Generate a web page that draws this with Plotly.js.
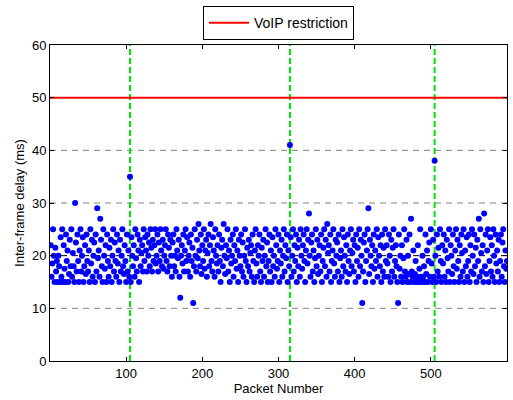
<!DOCTYPE html>
<html><head><meta charset="utf-8">
<script src="https://cdn.plot.ly/plotly-3.0.1.min.js"></script>
<style>html,body{margin:0;padding:0;background:#fff;}#chart{width:513px;height:400px;}</style>
</head><body><div id="chart"></div>
<script>
// Inter-frame delay (ms) per packet, packets 1..600
const delays = [
22,16,18.5,25,20,15,21.5,17,19,15,
20,18,15,23.5,16,25,15,22,17.5,15,
24,19,21,15,16.5,23,18,25,16,20.5,
18,15,30,22.5,17,24,19,15,21,25,
17,20,23.5,15,18,22,16.5,24,19,17,
21,15,25,18.5,23,16,20,22.5,15,24,
17,29,19.5,21,16,27,23,18,15,25,
20,17.5,22,15,24,19,16,21.5,18,23,
15,20,25,17,22.5,19,16,24,18.5,21,
15,23,17,20,25,18,16.5,22,19,15,
24,17,21,16,35,15,23.5,20,18,22,
16,25,19.5,17,24,21,15,23,18,20.5,
22,17,25,19,23.5,21,17,24,20,22.5,
18,25,21.5,17,23,19,22,25,18.5,20,
24,17,22.5,19,25,21,18,23,17.5,20,
22,25,19,17,24,21.5,18,23,20,16,
22.5,24,18,20,17,25,21,19.5,23,16,
12,20,22,18.5,24,17,21,25,19,23.5,
17,20,22.5,16,24,19,21.5,11,18,25,
20,17,23,19.5,26,21,18,24,16.5,22,
19,25,17.5,21,23,16,20.5,24,18,22,
26,19,17,23.5,21,16,25,20,18.5,22,
17,24,19,15,21.5,23,18,26,20,16.5,
22,19.5,25,17,21,15,23,18.5,20,24,
16,22,19,25,17.5,21,15,23,20,18,
24,17,22.5,16,20,25,19,15,21.5,18,
23,17,20.5,22,16,24,19,15,21,25,
18.5,16,22,20,24,17,15,21.5,19,23,
16,20,25,18,22.5,15,19,24,17,21,
15,23.5,18,20,16,25,22,17.5,19,24,
15,21,18.5,23,16,20,25,17,22,19.5,
24,15,21,18,41,23.5,16,20,25,17,
22,19,24,15,21.5,18,23,16,25,20,
17.5,22,24,19,15,21,25,18.5,23,28,
20,16,22.5,24,17,21,15,19.5,25,18,
23,16.5,20,22,17,24,15,19,21.5,25,
18,23,16,26,20.5,22,17,24,15,19,
21,25,18.5,16,23,20,22.5,17,24,15,
19.5,21,16,25,18,23.5,20,17,22,15,
24,19,16.5,21,25,18,20.5,23,17,22,
15,24,19,21.5,16,25,18,23,20,11,
17,22.5,24,15,19,21,25,29,16.5,23,
20,18,22,15,24,17.5,21,19,25,16,
23.5,20,18,22,15,24,17,21.5,16,25,
19,22,18.5,16,24,20,15,23,17,21.5,
25,16,19,22,18,15,11,24,17.5,20,
16,22,15,19.5,25,17,16,23,15,20,
16.5,24,15,27,17,16,21,15,16.5,19,
15,16,22,15,17.5,25,16,15,20,16,
18,15,24,16.5,21,15,19,22.5,16,25,
18.5,15,23,16,38,20,15,24,17,21.5,
16,25,19,15,22,18.5,24,16,21,15,
23,19.5,17,25,15,22,20,16.5,24,18,
15,21,25,17.5,23,19,15,22,16,24,
20.5,17,25,15,21,18,23.5,16,19,24,
15,22,17,25,20,16.5,24,18,21.5,15,
23,19,27,16,25,20.5,17,22,15,28,
18,24,16.5,21,25,15,19,23.5,17,22,
16,25,20,15,24,18.5,21,17,23,15,
19,24,16,22.5,25,18,15,21,17.5,19
];
const packets = delays.map((_, i) => i + 1);
const voipLimit = 50;
const limitX = [0, 600];
const markerPackets = [105, 315, 505];
const yRange = [0, 60];
const gridLevels = [10, 20, 30, 40];

const traces = [];
markerPackets.forEach(p => traces.push({
  x: [p, p], y: yRange, mode: 'lines', showlegend: false, hoverinfo: 'skip',
  line: {color: '#00e000', width: 2, dash: '6px,3px'}
}));
traces.push({
  x: packets, y: delays, mode: 'markers', showlegend: false,
  marker: {color: '#0000ff', size: 6, line: {width: 0}}
});
traces.push({
  x: limitX, y: [voipLimit, voipLimit], mode: 'lines', name: 'VoIP restriction',
  line: {color: '#ff0000', width: 2}
});

const shapes = gridLevels.map(v => ({
  type: 'line', xref: 'x', yref: 'y', x0: 0, x1: 600, y0: v, y1: v, layer: 'below',
  line: {color: v === 20 ? '#000000' : '#808080', width: 1, dash: '6px,5px'}
}));

const layout = {
  width: 513, height: 400,
  margin: {l: 50, r: 6, t: 45, b: 39, autoexpand: false},
  paper_bgcolor: '#ffffff', plot_bgcolor: '#ffffff',
  font: {family: 'Liberation Sans, Arial, sans-serif', size: 13, color: '#000'},
  showlegend: true,
  legend: {orientation: 'h', x: 0.5, xanchor: 'center', y: 1.123, yanchor: 'top',
    bordercolor: '#000', borderwidth: 1, bgcolor: '#fff', font: {size: 14}, itemwidth: 40},
  xaxis: {range: [0, 600], tickvals: [100, 200, 300, 400, 500, 600],
    ticks: 'inside', ticklen: 4, tickcolor: '#000', showline: true, linecolor: '#000', linewidth: 1,
    mirror: 'ticks', showgrid: false, zeroline: false,
    title: {text: 'Packet Number', standoff: 2, font: {size: 13}}},
  yaxis: {range: yRange, tickvals: [0, 10, 20, 30, 40, 50, 60],
    ticks: 'inside', ticklen: 4, tickcolor: '#000', showline: true, linecolor: '#000', linewidth: 1,
    mirror: 'ticks', showgrid: false, zeroline: false,
    title: {text: 'Inter-frame delay (ms)', standoff: 4, font: {size: 13}}},
  shapes: shapes
};
Plotly.newPlot('chart', traces, layout, {displayModeBar: false, staticPlot: true});
</script>
</body></html>
